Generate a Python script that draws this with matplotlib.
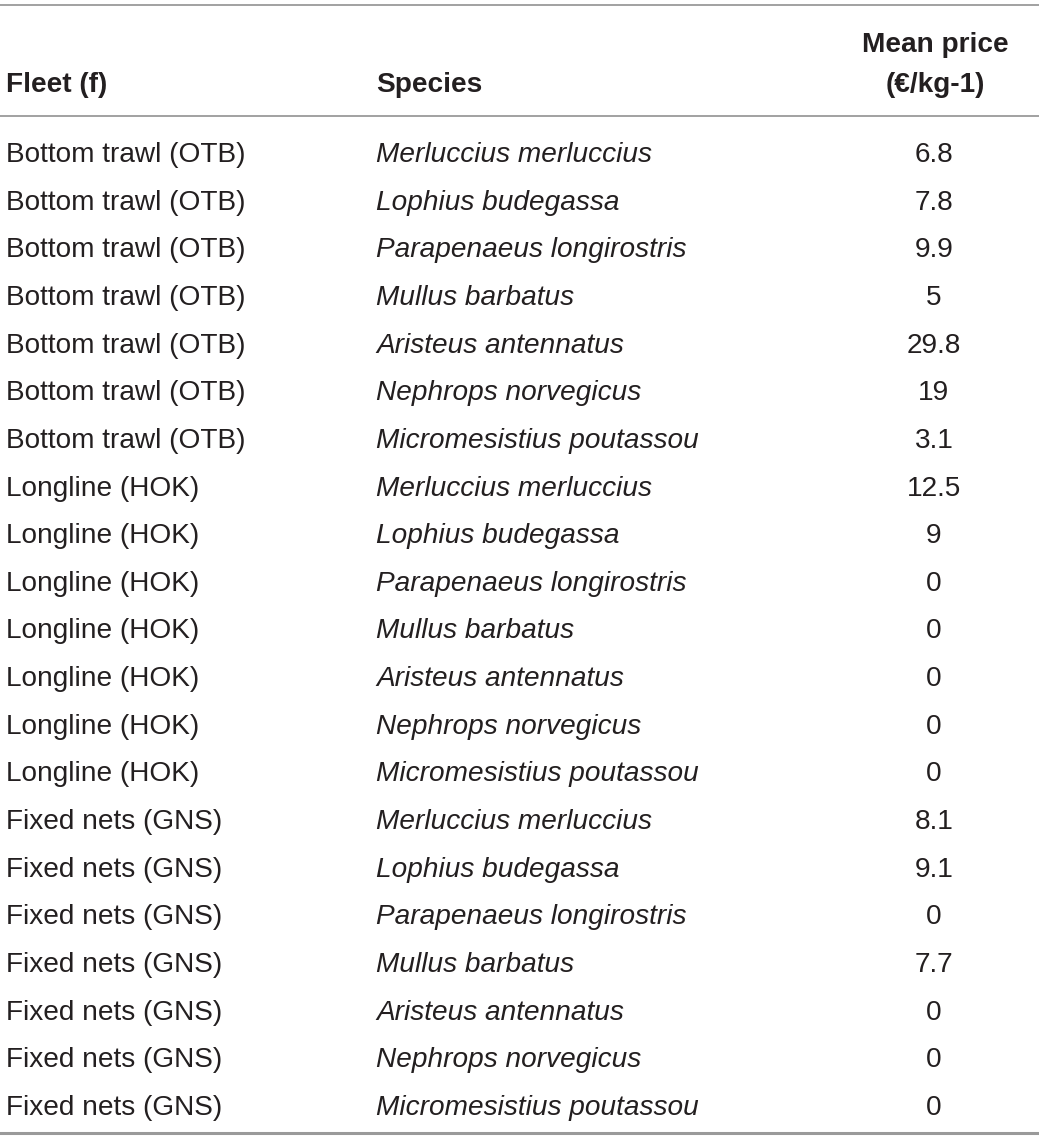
import matplotlib
matplotlib.use("Agg")
import matplotlib.pyplot as plt

fleets = (["Bottom trawl (OTB)"] * 7 + ["Longline (HOK)"] * 7 + ["Fixed nets (GNS)"] * 7)
species_list = ["Merluccius merluccius", "Lophius budegassa", "Parapenaeus longirostris",
                "Mullus barbatus", "Aristeus antennatus", "Nephrops norvegicus",
                "Micromesistius poutassou"]
species = species_list * 3
prices = ["6.8", "7.8", "9.9", "5", "29.8", "19", "3.1",
          "12.5", "9", "0", "0", "0", "0", "0",
          "8.1", "9.1", "0", "7.7", "0", "0", "0"]
headers = ["Fleet (f)", "Species", "Mean price\n(€/kg-1)"]

W, H = 1039, 1140
fig = plt.figure(figsize=(W / 100, H / 100), dpi=100)
ax = fig.add_axes([0, 0, 1, 1])
ax.set_xlim(0, W)
ax.set_ylim(H, 0)
ax.axis("off")

font = "Liberation Sans"
fs = 20.2
tc = "#231f20"
off = 3

# rules
ax.plot([0, W], [5, 5], color="#9a9a9a", lw=1.3)
ax.plot([0, W], [116, 116], color="#9a9a9a", lw=1.3)
ax.plot([0, W], [1133, 1133], color="#9a9a9a", lw=2.2)

# headers
ax.text(6, 82 + off, headers[0], fontsize=fs, fontweight="bold", family=font, color=tc, va="center", ha="left")
ax.text(376, 82 + off, headers[1], fontsize=fs, fontweight="bold", family=font, color=tc, va="center", ha="left")
h3a, h3b = headers[2].split("\n")
ax.text(935, 42 + off, h3a, fontsize=fs, fontweight="bold", family=font, color=tc, va="center", ha="center")
ax.text(935, 82 + off, h3b, fontsize=fs, fontweight="bold", family=font, color=tc, va="center", ha="center")

y0, dy = 152 + off, (1105 - 152) / 20
for i, (f, s, p) in enumerate(zip(fleets, species, prices)):
    y = y0 + i * dy
    ax.text(6, y, f, fontsize=fs, family=font, color=tc, va="center", ha="left")
    ax.text(376, y, s, fontsize=fs, family=font, style="italic", color=tc, va="center", ha="left")
    ax.text(934, y, p, fontsize=fs, family=font, color=tc, va="center", ha="center")

fig.savefig("out.png", dpi=100)
